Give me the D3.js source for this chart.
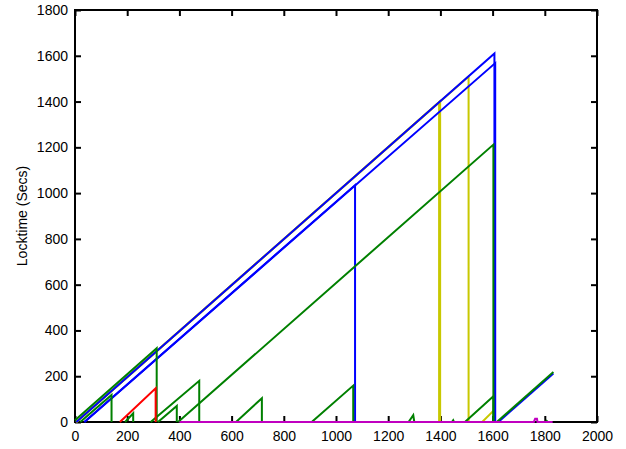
<!DOCTYPE html>
<html>
<head>
<meta charset="utf-8">
<script src="https://cdn.jsdelivr.net/npm/d3@7"></script>
<style>
  html, body { margin: 0; padding: 0; background: #fff; }
  svg { display: block; }
  text { font-family: "Liberation Sans", Arial, Helvetica, sans-serif; }
</style>
</head>
<body>
<svg id="chart" width="626" height="449"></svg>
<script>
// ---- data (x = time, y = locktime in secs) ----
const xTicks = [0, 200, 400, 600, 800, 1000, 1200, 1400, 1600, 1800, 2000];
const yTicks = [0, 200, 400, 600, 800, 1000, 1200, 1400, 1600, 1800];
const yLabel = "Locktime (Secs)";

// each series: list of [x, y] points
const yellowSeries = [
  [[5, 0], [1395, 1397], [1395, 0]],
  [[5, 0], [1399, 1401], [1399, 0]],
  [[5, 0], [1508, 1510], [1508, 0]],
  [[1560, 0], [1606, 52], [1606, 0]]
];
const blueSeries = [
  [[5, 0], [1607, 1610], [1607, 0]],
  [[36, 0], [1610, 1568], [1610, 0]],
  [[36, 0], [1073, 1035], [1073, 0]],
  [[1622, 0], [1833, 212]]
];
const greenSeries = [
  [[0, 8], [313, 322], [313, 0]],
  [[20, 0], [140, 118], [140, 0]],
  [[192, 0], [223, 38], [223, 0]],
  [[290, 0], [476, 180], [476, 0]],
  [[318, 0], [390, 70], [390, 0]],
  [[395, 0], [1603, 1212], [1603, 0]],
  [[617, 0], [716, 104], [716, 0]],
  [[907, 0], [1066, 159], [1066, 0]],
  [[1278, 0], [1296, 30], [1300, 0]],
  [[1444, 0], [1449, 8], [1452, 0]],
  [[1494, 0], [1603, 112], [1603, 0]],
  [[1616, 0], [1833, 218]],
  [[1803, 0], [1807, 5], [1812, 0]]
];
const redSeries = [
  [[172, 0], [309, 147], [309, 0]]
];
const magentaSeries = [
  [[400, 0], [1758, 0], [1763, 14], [1770, 14], [1772, 0], [1830, 0]]
];

// ---- layout ----
const svg = d3.select("#chart");
const L = 75, R = 597, T = 10, B = 422;
const x = d3.scaleLinear().domain([0, 2000]).range([L, R]);
const y = d3.scaleLinear().domain([0, 1800]).range([B, T]);

const line = d3.line().x(d => x(d[0])).y(d => y(d[1]));

function drawSeries(list, color, width) {
  svg.append("g").selectAll("path").data(list).join("path")
    .attr("d", line)
    .attr("fill", "none")
    .attr("stroke", color)
    .attr("stroke-width", width)
    .attr("stroke-linejoin", "miter");
}

// axes
const tickFont = 14;
const fmt = d3.format("d");
const gB = svg.append("g").attr("transform", `translate(0,${B})`)
  .call(d3.axisBottom(x).tickValues(xTicks).tickFormat(fmt).tickSizeInner(-6).tickSizeOuter(0).tickPadding(9));
const gT = svg.append("g").attr("transform", `translate(0,${T})`)
  .call(d3.axisTop(x).tickValues(xTicks).tickSizeInner(-6).tickSizeOuter(0).tickFormat(""));
const gL = svg.append("g").attr("transform", `translate(${L},0)`)
  .call(d3.axisLeft(y).tickValues(yTicks).tickFormat(fmt).tickSizeInner(-6).tickSizeOuter(0).tickPadding(7));
const gR = svg.append("g").attr("transform", `translate(${R},0)`)
  .call(d3.axisRight(y).tickValues(yTicks).tickSizeInner(-6).tickSizeOuter(0).tickFormat(""));

[gB, gT, gL, gR].forEach(g => {
  g.select(".domain").remove();
  g.selectAll("line").attr("stroke", "#000").attr("stroke-width", 2);
  g.selectAll("text").attr("fill", "#000").attr("font-size", tickFont)
    .attr("font-family", "'Liberation Sans', Arial, sans-serif");
});

// frame
svg.append("rect").attr("x", L).attr("y", T).attr("width", R - L).attr("height", B - T)
  .attr("fill", "none").attr("stroke", "#000").attr("stroke-width", 2);

// series
drawSeries(yellowSeries, "#c8c800", 2);
drawSeries(blueSeries, "#0000ff", 2);
drawSeries(greenSeries, "#008000", 2);
drawSeries(redSeries, "#ff0000", 2);
drawSeries(magentaSeries, "#c000c0", 2);

// y label
svg.append("text")
  .attr("transform", `translate(27,${(T + B) / 2}) rotate(-90)`)
  .attr("text-anchor", "middle")
  .attr("font-size", 14)
  .attr("fill", "#000")
  .text(yLabel);
</script>
</body>
</html>
